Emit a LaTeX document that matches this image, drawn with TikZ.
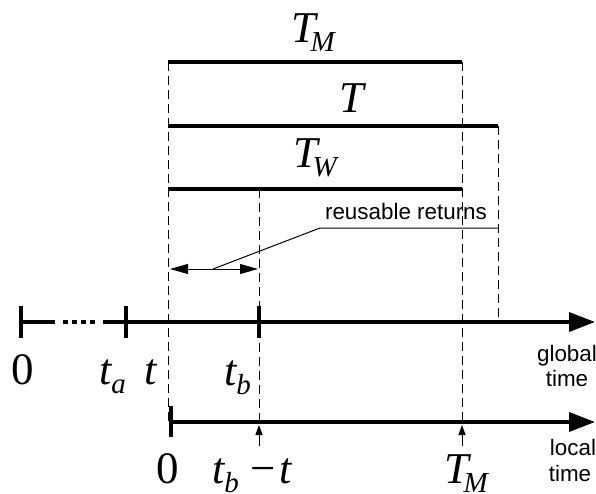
\documentclass[tikz,border=0pt]{standalone}
\usepackage{fontspec}
\setmainfont{Liberation Serif}
\setsansfont{Liberation Sans}
\usetikzlibrary{arrows.meta,calc}
\newcommand{\BI}[1]{{\fontsize{44}{44}\selectfont\itshape #1}}
\newcommand{\BU}[1]{{\fontsize{45}{45}\selectfont #1}}
\newcommand{\SB}[1]{\raisebox{-9pt}{\fontsize{29}{29}\selectfont\itshape #1}}
\tikzset{
  axis/.style={line width=3.6pt,-{Triangle[length=26pt,width=19pt]}},
  bar/.style={line width=3.6pt},
  tickm/.style={line width=3.6pt},
  guide/.style={line width=1pt,dash pattern=on 9pt off 5pt},
  lab/.style={inner sep=0pt,anchor=base west},
  sans/.style={inner sep=0pt,anchor=base,font=\fontsize{22.4}{22.4}\selectfont\sffamily},
  thin/.style={line width=1pt},
}
\begin{document}
\begin{tikzpicture}[x=1pt,y=-1pt]
\useasboundingbox (0,0) rectangle (596,494);
% coordinates
\coordinate (g0) at (21,322);
\coordinate (gd1) at (55,322);
\coordinate (gd2) at (103,322);
\coordinate (ga) at (126,322);
\coordinate (gb) at (259,322);
\coordinate (gend) at (595,322);
\coordinate (l0) at (171,422);
\coordinate (lend) at (595,422);
\coordinate (m0) at (168,62);
\coordinate (m1) at (462,62);
\coordinate (t0) at (168,126);
\coordinate (t1) at (498,126);
\coordinate (w0) at (168,189);
\coordinate (w1) at (462,189);
\coordinate (wb) at (259,189);
\coordinate (lb) at (259,422);
\coordinate (lm) at (462,422);
\coordinate (gt) at (498,322);
\coordinate (ll) at (168,422);
% bars
\draw[bar] (m0) -- (m1);
\draw[bar] (t0) -- (t1);
\draw[bar] (w0) -- (w1);
% guides
\draw[guide] (m0) -- (ll);
\draw[guide] (m1) -- (lm);
\draw[guide] (t1) -- (gt);
\draw[guide] (wb) -- (lb);
% global axis
\draw[tickm] (g0) -- (gd1);
\draw[line width=3.6pt,dash pattern=on 5pt off 4pt] ($(gd1)+(8,0)$) -- ($(gd2)+(-8,0)$);
\draw[axis] (gd2) -- (gend);
\draw[tickm] (21,306) -- (21,338);
\draw[tickm] (126,306) -- (126,338);
\draw[tickm] (259,306) -- (259,338);
% local axis
\draw[axis] (l0) -- (lend);
\draw[tickm] (171,406) -- (171,437);
\coordinate (ab) at (259,446);
\coordinate (am) at (462,446);
\draw[thin,-{Triangle[length=10pt,width=7pt]}] (ab) -- (259,425);
\draw[thin,-{Triangle[length=10pt,width=7pt]}] (am) -- (462,425);
% reusable returns
\coordinate (ra) at (170,269);
\coordinate (rb) at (258,269);
\coordinate (rk) at (213,269);
\coordinate (rl) at (320,228);
\coordinate (rr) at (498,228);
\draw[thin,{Triangle[length=18pt,width=10pt]}-{Triangle[length=18pt,width=10pt]}] (ra) -- (rb);
\draw[thin] (rk) -- (rl) -- (rr);
\node[sans] (rt) at (406,219) {reusable returns};
% labels
\node[lab] (lTM) at (291,43) {\BI{T}\kern-5pt\SB{M}};
\node[lab] (lT) at (339,113) {\BI{T}};
\node[lab] (lTW) at (293,168) {\BI{T}\kern-5pt\SB{W}};
\node[inner sep=0pt,anchor=base] (lg0) at (23,384) {\BU{0}};
\node[lab] (lta) at (99,384) {\BI{t}\SB{a}};
\node[lab] (lt) at (144,384) {\BI{t}};
\node[lab] (ltb) at (224,385) {\BI{t}\SB{b}};
\node[inner sep=0pt,anchor=base] (ll0) at (168,483) {\BU{0}};
\node[lab] (ltbt) at (212,483) {\BI{t}\SB{b}\kern12pt\BU{−}\kern3pt\BI{t}};
\node[lab] (lTM2) at (444,483) {\BI{T}\kern-5pt\SB{M}};
\node[sans] (gl1) at (567,361) {global};
\node[sans] (gl2) at (567,386) {time};
\node[sans] (lc1) at (573,455) {local};
\node[sans] (lc2) at (570,481) {time};
\end{tikzpicture}
\end{document}
